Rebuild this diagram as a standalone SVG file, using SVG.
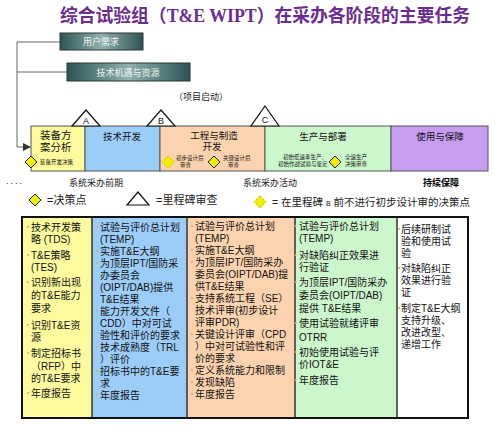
<svg xmlns="http://www.w3.org/2000/svg" width="495" height="427" viewBox="0 0 495 427">
<defs>
<linearGradient id="teal" x1="0" y1="0" x2="1" y2="0">
<stop offset="0" stop-color="#2c5454"/>
<stop offset="0.5" stop-color="#8fb1b0"/>
<stop offset="1" stop-color="#2c5454"/>
</linearGradient>
<marker id="arr" markerWidth="8" markerHeight="8" refX="7" refY="4" orient="auto" markerUnits="userSpaceOnUse">
<path d="M0,0 L8,4 L0,8 Z" fill="#333"/>
</marker>
</defs>
<style>
text{font-family:"Liberation Sans","Noto Sans CJK SC",sans-serif;fill:#111}
.title{font-size:18px;font-weight:bold;fill:#6b2c8f;font-family:"Liberation Serif","Noto Sans CJK SC",serif}
.tb{fill:url(#teal);stroke:#333;stroke-width:1}
.tbt{font-size:9px;fill:#f4f4f4;text-anchor:middle}
.ph{stroke:#555;stroke-width:1}
.pl{font-size:9.5px;text-anchor:middle}
.sm{font-size:5.5px}
.dia{fill:#f2ee00;stroke:#222;stroke-width:1}
.diad{fill:#f2ee00;stroke:#e0c800;stroke-width:1.2;stroke-dasharray:2 1.5}
.tri{fill:#fff;stroke:#111;stroke-width:1.2}
.tl{font-size:9px;text-anchor:middle}
.cap{font-size:9px;fill:#222}
.leg{font-size:11px;fill:#222}
.cell{font-size:10px}
.blt{fill:#c8b060}
.conn{fill:none;stroke:#666;stroke-width:1}
</style>
<g id="title"><text class="title" x="60" y="22" textLength="410" lengthAdjust="spacingAndGlyphs">综合试验组（T&amp;E WIPT）在采办各阶段的主要任务</text></g>

<g id="connectors">
<path class="conn" d="M60,42 H17 V147 H30" marker-end="url(#arr)"/>
<path class="conn" d="M67,72 H17"/>
</g>

<g id="user-needs"><rect class="tb" x="60" y="33" width="83" height="17"/><text class="tbt" x="101" y="45">用户需求</text></g>
<g id="tech-opportunity"><rect class="tb" x="67" y="63" width="123" height="18"/><text class="tbt" x="128" y="75.5">技术机遇与资源</text></g>
<g id="project-start"><text class="cap" x="174" y="100">（项目启动）</text></g>

<g id="phase-msa"><rect class="ph" x="31" y="126" width="54" height="45" fill="#fdfb9d"/>
<text x="40" y="139" style="font-size:10.5px">装备方</text><text x="40" y="151" style="font-size:10.5px">案分析</text>
<path class="dia" d="M31,156 L37,162 L31,168 L25,162 Z"/><text class="sm" x="40" y="164">装备开发决策</text></g>
<g id="phase-td"><rect class="ph" x="85" y="126" width="75" height="45" fill="#9ccdf8"/><text class="pl" x="122" y="140">技术开发</text></g>
<g id="phase-emd"><rect class="ph" x="160" y="126" width="105" height="45" fill="#fcd3ae"/>
<text class="pl" x="214" y="139">工程与制造</text><text class="pl" x="212" y="150">开发</text>
<path class="diad" d="M168,156 L174,162 L168,168 L162,162 Z"/><text class="sm" x="176" y="160">初步设计后</text><text class="sm" x="180" y="167">审查</text>
<path class="dia" d="M214,156 L220,162 L214,168 L208,162 Z"/><text class="sm" x="223" y="160">关键设计后</text><text class="sm" x="228" y="167">审查</text></g>
<g id="phase-pd"><rect class="ph" x="265" y="126" width="126" height="45" fill="#ccf7cc"/>
<text class="pl" x="323" y="140">生产与部署</text>
<text class="sm" x="283" y="159">初始低速率生产、</text><text class="sm" x="278" y="166">初始作战试验与鉴定</text>
<path class="dia" d="M335,156 L341,162 L335,168 L329,162 Z"/><text class="sm" x="345" y="159">全速生产</text><text class="sm" x="345" y="166">决策审查</text></g>
<g id="phase-os"><rect class="ph" x="391" y="126" width="97" height="45" fill="#c79df0"/><text class="pl" x="440" y="140">使用与保障</text></g>

<g id="milestone-a"><path class="tri" d="M86,110 L100,126 L72,126 Z"/><text class="tl" x="86" y="124">A</text></g>
<g id="milestone-b"><path class="tri" d="M161,110 L175,126 L147,126 Z"/><text class="tl" x="161" y="124">B</text></g>
<g id="milestone-c"><path class="tri" d="M265,106 L279,126 L251,126 Z"/><text class="tl" x="265" y="123">C</text></g>

<g id="captions">
<text class="cap" x="6" y="184" style="letter-spacing:2px">....</text>
<text class="cap" x="69" y="186">系统采办前期</text>
<text class="cap" x="243" y="186">系统采办活动</text>
<text class="cap" x="423" y="186" style="font-weight:bold;fill:#000">持续保障</text>
</g>

<g id="legend">
<path class="dia" d="M35,194 L41,200 L35,206 L29,200 Z"/><text class="leg" x="47" y="204">=决策点</text>
<path class="tri" d="M138,192 L149,205 L127,205 Z" style="fill:#fff"/><text class="leg" x="156" y="204">=里程碑审查</text>
<path class="diad" d="M260,196 L266,202 L260,208 L254,202 Z"/><text class="leg" x="272" y="206" style="font-size:10.5px">= 在里程碑 <tspan style="font-size:7px">B</tspan> 前不进行初步设计审的决策点</text>
</g>

<g id="table">
<rect x="22" y="217" width="70" height="201" fill="#fdfb9d"/>
<rect x="92" y="217" width="95" height="201" fill="#9ccdf8"/>
<rect x="187" y="217" width="108" height="201" fill="#fcd3ae"/>
<rect x="295" y="217" width="102" height="201" fill="#ccf7cc"/>
<rect x="397" y="217" width="71" height="201" fill="#fff"/>
<path d="M92,217 V418 M187,217 V418 M295,217 V418 M397,217 V418" stroke="#333" stroke-width="1.5"/>
<rect x="22" y="217" width="446" height="201" fill="none" stroke="#111" stroke-width="2"/>
</g>

<g id="col-msa" class="cell">
<circle class="blt" cx="28" cy="227" r="1"/><circle class="blt" cx="28" cy="255" r="1"/><circle class="blt" cx="28" cy="282" r="1"/><circle class="blt" cx="28" cy="325" r="1"/><circle class="blt" cx="28" cy="353" r="1"/><circle class="blt" cx="28" cy="393" r="1"/>
<text class="cell" x="31" y="231">技术开发策</text>
<text class="cell" x="31" y="243">略 (TDS)</text>
<text class="cell" x="31" y="259">T&amp;E策略</text>
<text class="cell" x="31" y="271">(TES)</text>
<text class="cell" x="31" y="286">识别新出现</text>
<text class="cell" x="31" y="299">的T&amp;E能力</text>
<text class="cell" x="31" y="312">要求</text>
<text class="cell" x="31" y="329">识别T&amp;E资</text>
<text class="cell" x="31" y="341">源</text>
<text class="cell" x="31" y="357">制定招标书</text>
<text class="cell" x="31" y="370">（RFP）中</text>
<text class="cell" x="31" y="382">的T&amp;E要求</text>
<text class="cell" x="31" y="397">年度报告</text>
</g>

<g id="col-td">
<circle class="blt" cx="97" cy="227" r="1"/><circle class="blt" cx="97" cy="251" r="1"/><circle class="blt" cx="97" cy="263" r="1"/><circle class="blt" cx="97" cy="311" r="1"/><circle class="blt" cx="97" cy="347" r="1"/><circle class="blt" cx="97" cy="371" r="1"/><circle class="blt" cx="97" cy="395" r="1"/>
<text class="cell" x="100" y="231">试验与评价总计划</text>
<text class="cell" x="100" y="243">(TEMP)</text>
<text class="cell" x="100" y="255">实施T&amp;E大纲</text>
<text class="cell" x="100" y="267">为顶层IPT/国防采</text>
<text class="cell" x="100" y="279">办委员会</text>
<text class="cell" x="100" y="291">(OIPT/DAB)提供</text>
<text class="cell" x="100" y="303">T&amp;E结果</text>
<text class="cell" x="100" y="315">能力开发文件（</text>
<text class="cell" x="100" y="327">CDD）中对可试</text>
<text class="cell" x="100" y="339">验性和评价的要求</text>
<text class="cell" x="100" y="351">技术成熟度（TRL</text>
<text class="cell" x="100" y="363">）评价</text>
<text class="cell" x="100" y="375">招标书中的T&amp;E要</text>
<text class="cell" x="100" y="387">求</text>
<text class="cell" x="100" y="399">年度报告</text>
</g>

<g id="col-emd">
<circle class="blt" cx="192" cy="226" r="1"/><circle class="blt" cx="192" cy="250" r="1"/><circle class="blt" cx="192" cy="262" r="1"/><circle class="blt" cx="192" cy="298" r="1"/><circle class="blt" cx="192" cy="334" r="1"/><circle class="blt" cx="192" cy="370" r="1"/><circle class="blt" cx="192" cy="382" r="1"/><circle class="blt" cx="192" cy="394" r="1"/>
<text class="cell" x="195" y="230">试验与评价总计划</text>
<text class="cell" x="195" y="242">(TEMP)</text>
<text class="cell" x="195" y="254">实施T&amp;E大纲</text>
<text class="cell" x="195" y="266">为顶层IPT/国防采办</text>
<text class="cell" x="195" y="278">委员会(OIPT/DAB)提</text>
<text class="cell" x="195" y="290">供T&amp;E结果</text>
<text class="cell" x="195" y="302">支持系统工程（SE）</text>
<text class="cell" x="195" y="314">技术评审(初步设计</text>
<text class="cell" x="195" y="326">评审PDR)</text>
<text class="cell" x="195" y="338">关键设计评审（CPD</text>
<text class="cell" x="195" y="350">）中对可试验性和评</text>
<text class="cell" x="195" y="362">价的要求</text>
<text class="cell" x="195" y="374">定义系统能力和限制</text>
<text class="cell" x="195" y="386">发现缺陷</text>
<text class="cell" x="195" y="398">年度报告</text>
</g>

<g id="col-pd">
<circle class="blt" cx="295.5" cy="226" r="1"/><circle class="blt" cx="295.5" cy="255" r="1"/><circle class="blt" cx="295.5" cy="282" r="1"/><circle class="blt" cx="295.5" cy="323" r="1"/><circle class="blt" cx="295.5" cy="352" r="1"/><circle class="blt" cx="295.5" cy="380" r="1"/>
<text class="cell" x="299" y="230">试验与评价总计划</text>
<text class="cell" x="299" y="242">(TEMP)</text>
<text class="cell" x="299" y="259">对缺陷纠正效果进</text>
<text class="cell" x="299" y="271">行验证</text>
<text class="cell" x="299" y="286">为顶层IPT/国防采办</text>
<text class="cell" x="299" y="299">委员会(OIPT/DAB)</text>
<text class="cell" x="299" y="312">提供 T&amp;E结果</text>
<text class="cell" x="299" y="327">使用试验就绪评审</text>
<text class="cell" x="299" y="341">OTRR</text>
<text class="cell" x="299" y="356">初始使用试验与评</text>
<text class="cell" x="299" y="368">价IOT&amp;E</text>
<text class="cell" x="299" y="384">年度报告</text>
</g>

<g id="col-os">
<circle class="blt" cx="399" cy="229" r="1"/><circle class="blt" cx="399" cy="268" r="1"/><circle class="blt" cx="399" cy="308" r="1"/>
<text class="cell" x="401" y="233">后续研制试</text>
<text class="cell" x="401" y="245">验和使用试</text>
<text class="cell" x="401" y="257">验</text>
<text class="cell" x="401" y="272">对缺陷纠正</text>
<text class="cell" x="401" y="284">效果进行验</text>
<text class="cell" x="401" y="296">证</text>
<text class="cell" x="401" y="312">制定T&amp;E大纲</text>
<text class="cell" x="401" y="324">支持升级、</text>
<text class="cell" x="401" y="336">改进改型、</text>
<text class="cell" x="401" y="348">递增工作</text>
</g>
</svg>
